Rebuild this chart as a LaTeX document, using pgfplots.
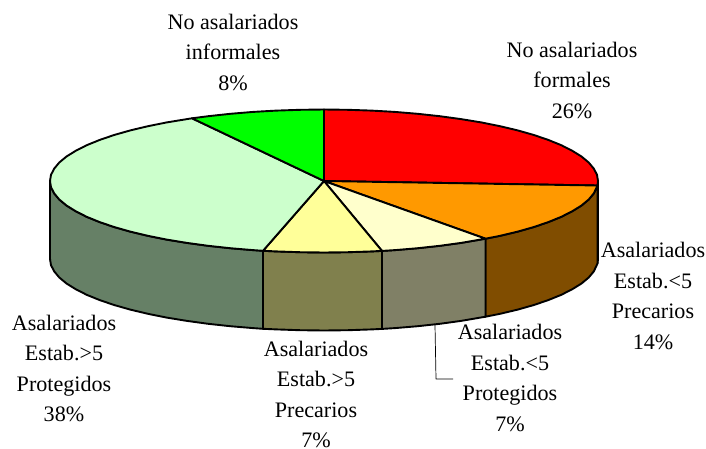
\documentclass[border=0pt]{standalone}
\usepackage{pgfplots}
\pgfplotsset{compat=1.18}
\usepackage{fontspec}
\setmainfont{Liberation Serif}
\definecolor{cRed}{HTML}{FF0000}
\definecolor{cOrange}{HTML}{FF9900}
\definecolor{cPaleY}{HTML}{FFFFCC}
\definecolor{cYellow}{HTML}{FFFF99}
\definecolor{cPaleG}{HTML}{CCFFCC}
\definecolor{cGreen}{HTML}{00FF00}
\definecolor{sRed}{HTML}{800000}
\definecolor{sOrange}{HTML}{804D00}
\definecolor{sPaleY}{HTML}{808066}
\definecolor{sYellow}{HTML}{80804D}
\definecolor{sPaleG}{HTML}{668066}
\tikzset{lbl/.style={font=\fontsize{22.1}{30.5}\selectfont,align=center,anchor=center,inner sep=0pt,text=black}}
\begin{document}
\begin{tikzpicture}[x=1pt,y=1pt]
\useasboundingbox (0,0) rectangle (706,448);
\begin{axis}[
  at={(0,0)},anchor=south west,
  scale only axis,width=706pt,height=448pt,
  xmin=0,xmax=706,ymin=0,ymax=448,y dir=reverse,
  hide axis,clip=false,
  every axis plot/.append style={line width=1.9pt,line join=round,no markers},
]
% sides
\addplot[fill=sRed,draw=black] coordinates {(598,181)(597.5,185.5)(597.5,263.5)(598,259)} -- cycle;
\addplot[fill=sOrange,draw=black] coordinates {(597.5,185.5)(593.8,193.4)(588.7,199.5)(581.5,205.5)(572.3,211.2)(561.3,216.8)(548.5,222)(533.9,227)(517.7,231.6)(500.1,235.8)(485.5,238.7)(485.5,316.7)(500.1,313.8)(517.7,309.6)(533.9,305)(548.5,300)(561.3,294.8)(572.3,289.2)(581.5,283.5)(588.7,277.5)(593.8,271.4)(597.5,263.5)} -- cycle;
\addplot[fill=sPaleY,draw=black] coordinates {(485.5,238.7)(461,242.9)(439.8,245.8)(417.7,248.2)(394.9,250.1)(382,250.9)(382,328.9)(394.9,328.1)(417.7,326.2)(439.8,323.8)(461,320.9)(485.5,316.7)} -- cycle;
\addplot[fill=sYellow,draw=black] coordinates {(382,250.9)(371.6,251.4)(347.9,252.2)(324,252.5)(300.1,252.2)(276.4,251.4)(263,250.8)(263,328.8)(276.4,329.4)(300.1,330.2)(324,330.5)(347.9,330.2)(371.6,329.4)(382,328.9)} -- cycle;
\addplot[fill=sPaleG,draw=black] coordinates {(263,250.8)(253.1,250.1)(230.3,248.2)(208.2,245.8)(187,242.9)(166.8,239.6)(147.9,235.8)(130.3,231.6)(114.1,227)(99.5,222)(86.7,216.8)(75.7,211.2)(66.5,205.5)(59.3,199.5)(54.2,193.4)(51,187.2)(50,181)(50,259)(51,265.2)(54.2,271.4)(59.3,277.5)(66.5,283.5)(75.7,289.2)(86.7,294.8)(99.5,300)(114.1,305)(130.3,309.6)(147.9,313.8)(166.8,317.6)(187,320.9)(208.2,323.8)(230.3,326.2)(253.1,328.1)(263,328.8)} -- cycle;
% top sectors
\addplot[fill=cRed,draw=black] coordinates {(324,181)(324,109.5)(347.9,109.8)(371.6,110.6)(394.9,111.9)(417.7,113.8)(439.8,116.2)(461,119.1)(481.2,122.4)(500.1,126.2)(517.7,130.4)(533.9,135)(548.5,140)(561.3,145.2)(572.3,150.8)(581.5,156.5)(588.7,162.5)(593.8,168.6)(597,174.8)(598,181)(597.5,185.5)} -- cycle;
\addplot[fill=cOrange,draw=black] coordinates {(324,181)(597.5,185.5)(593.8,193.4)(588.7,199.5)(581.5,205.5)(572.3,211.2)(561.3,216.8)(548.5,222)(533.9,227)(517.7,231.6)(500.1,235.8)(485.5,238.7)} -- cycle;
\addplot[fill=cPaleY,draw=black] coordinates {(324,181)(485.5,238.7)(461,242.9)(439.8,245.8)(417.7,248.2)(394.9,250.1)(382,250.9)} -- cycle;
\addplot[fill=cYellow,draw=black] coordinates {(324,181)(382,250.9)(371.6,251.4)(347.9,252.2)(324,252.5)(300.1,252.2)(276.4,251.4)(263,250.8)} -- cycle;
\addplot[fill=cPaleG,draw=black] coordinates {(324,181)(263,250.8)(253.1,250.1)(230.3,248.2)(208.2,245.8)(187,242.9)(166.8,239.6)(147.9,235.8)(130.3,231.6)(114.1,227)(99.5,222)(86.7,216.8)(75.7,211.2)(66.5,205.5)(59.3,199.5)(54.2,193.4)(51,187.2)(50,181)(51,174.8)(54.2,168.6)(59.3,162.5)(66.5,156.5)(75.7,150.8)(86.7,145.2)(99.5,140)(114.1,135)(130.3,130.4)(147.9,126.2)(166.8,122.4)(187,119.1)(192,118.3)} -- cycle;
\addplot[fill=cGreen,draw=black] coordinates {(324,181)(192,118.3)(208.2,116.2)(230.3,113.8)(253.1,111.9)(276.4,110.6)(300.1,109.8)(324,109.5)} -- cycle;
% leader line
\addplot[draw=black,line width=0.7pt] coordinates {(435,325)(436,379)(453,379)};
% labels
\node[lbl] at (axis cs:233,52) {No asalariados\\informales\\8\%};
\node[lbl] at (axis cs:572,80) {No asalariados\\formales\\26\%};
\node[lbl] at (axis cs:653,296) {Asalariados\\Estab.<5\\Precarios\\14\%};
\node[lbl] at (axis cs:510,378) {Asalariados\\Estab.<5\\Protegidos\\7\%};
\node[lbl] at (axis cs:316,394.5) {Asalariados\\Estab.>5\\Precarios\\7\%};
\node[lbl] at (axis cs:64,368.5) {Asalariados\\Estab.>5\\Protegidos\\38\%};
\end{axis}
\end{tikzpicture}
\end{document}
